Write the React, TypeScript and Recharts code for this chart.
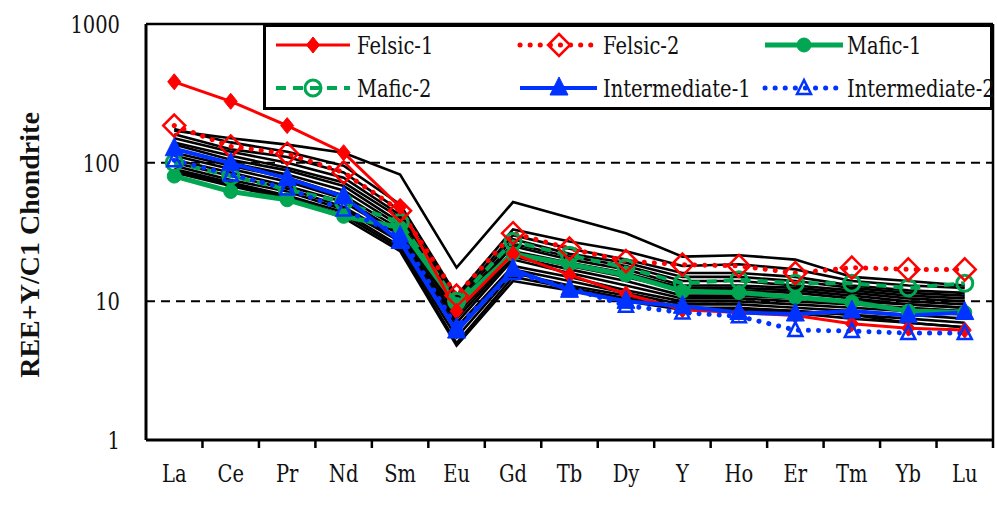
import React from 'react';
import { LineChart, Line, XAxis, YAxis, ReferenceLine, Legend } from 'recharts';

const categories = ['La', 'Ce', 'Pr', 'Nd', 'Sm', 'Eu', 'Gd', 'Tb', 'Dy', 'Y', 'Ho', 'Er', 'Tm', 'Yb', 'Lu'];
const yTicks = [1, 10, 100, 1000];

const felsic1 = [383, 277, 185, 118, 48, 8.5, 22, 15.5, 11.3, 8.7, 8.3, 7.9, 6.9, 6.4, 6.2];
const felsic2 = [185, 131, 116, 85, 45, 11, 31, 24, 19.5, 18.4, 18, 16, 17.5, 17, 17];
const mafic1 = [80, 62, 54, 41, 34, 9.5, 22, 18.5, 15.5, 11.8, 11.6, 10.7, 9.9, 8.5, 8.3];
const mafic2 = [100, 80, 64, 52, 37, 10, 27, 21.5, 17.5, 13.5, 14.3, 13.5, 13.5, 12.5, 13.5];
const inter1 = [126, 99, 77, 57, 27, 6.1, 17, 12, 10, 9.2, 8.3, 8.1, 8.5, 7.9, 8.3];
const inter2 = [104, 82, 65, 46, 30, 6.5, 16, 12.5, 9.3, 8.3, 7.8, 6.2, 6.1, 5.9, 5.9];

const sample01 = [170, 150, 135, 118, 82, 17.5, 52, 40, 31, 21, 21.5, 20, 15, 14, 13];
const sample02 = [175, 140, 120, 95, 50, 11, 33, 27, 23, 18, 18.5, 17, 14, 13, 12.5];
const sample03 = [160, 125, 110, 85, 45, 10.5, 30, 24, 20, 16, 16, 15, 13, 12, 11.5];
const sample04 = [150, 120, 100, 78, 42, 10, 28, 22, 19, 15, 15, 14, 12.5, 11.5, 11];
const sample05 = [140, 112, 92, 72, 40, 9.5, 26, 21, 18, 14, 14, 13, 12, 11, 10.5];
const sample06 = [135, 105, 88, 68, 37, 9, 25, 20, 17, 13, 13, 12.5, 11.5, 10.5, 10];
const sample07 = [125, 100, 82, 63, 35, 8.5, 23, 19, 16, 12.5, 12.5, 12, 11, 10, 9.5];
const sample08 = [118, 95, 78, 58, 33, 8, 22, 18, 15, 12, 12, 11.5, 10.5, 9.5, 9];
const sample09 = [112, 90, 73, 55, 31, 7.5, 21, 17, 14, 11, 11, 10.5, 10, 9.5, 9];
const sample10 = [105, 85, 68, 52, 30, 7, 20, 16, 13, 10.5, 10.5, 10, 9.5, 9, 8.5];
const sample11 = [100, 80, 65, 48, 28, 6.5, 18, 15, 12, 10, 10, 9.5, 9, 8.5, 8];
const sample12 = [95, 75, 62, 46, 27, 6, 17, 14, 11.5, 9.5, 9.5, 9, 8.5, 8, 7.5];
const sample13 = [90, 72, 58, 44, 25, 5.5, 16, 13, 11, 9, 9, 8.5, 8, 7.5, 7];
const sample14 = [88, 70, 56, 42, 24, 5, 15, 12.5, 10.5, 9, 8.8, 8.5, 8, 7, 6.5];
const sample15 = [85, 68, 55, 40, 23, 4.8, 14, 12, 10, 8.7, 8.5, 8.2, 7.5, 7, 6.5];

const samples = [sample01, sample02, sample03, sample04, sample05, sample06, sample07, sample08,
  sample09, sample10, sample11, sample12, sample13, sample14, sample15];

const data = categories.map((name, i) => {
  const row: any = { i, name, felsic1: felsic1[i], felsic2: felsic2[i], mafic1: mafic1[i], mafic2: mafic2[i], inter1: inter1[i], inter2: inter2[i] };
  samples.forEach((s, k) => { row['s' + k] = s[i]; });
  return row;
});

const RED = '#ff0000';
const GREEN = '#00a651';
const BLUE = '#0033ff';
const SERIF = '"DejaVu Serif", serif';
const SQUEEZE = 0.78;

const W = 997;
const H = 516;
const M = { top: 24, right: 4, bottom: 46, left: 0 };
const YAXIS_W = 146;
const PLOT_W = W - M.left - M.right - YAXIS_W;
const BAND_HALF = PLOT_W / categories.length / 2;

function SerifText({ x, y, anchor, size, children }: any) {
  return (
    <text transform={`translate(${x},${y}) scale(${SQUEEZE},1)`} x={0} y={0} textAnchor={anchor}
      dominantBaseline="central" style={{ fontFamily: SERIF }} fontSize={size} fill="#111">{children}</text>
  );
}

function Marker({ kind, cx, cy }: any) {
  if (cx == null || cy == null) return null;
  switch (kind) {
    case 'diamondFilled':
      return <polygon points={`${cx},${cy - 8} ${cx + 6.5},${cy} ${cx},${cy + 8} ${cx - 6.5},${cy}`} fill={RED} stroke={RED} strokeWidth={1} />;
    case 'diamondHollow':
      return <polygon points={`${cx},${cy - 11} ${cx + 11},${cy} ${cx},${cy + 11} ${cx - 11},${cy}`} fill="none" stroke={RED} strokeWidth={2.5} />;
    case 'circleFilled':
      return <circle cx={cx} cy={cy} r={7} fill={GREEN} stroke={GREEN} strokeWidth={1} />;
    case 'circleHollow':
      return <circle cx={cx} cy={cy} r={8} fill="none" stroke={GREEN} strokeWidth={3} />;
    case 'triFilled':
      return <polygon points={`${cx},${cy - 11} ${cx + 9},${cy + 7} ${cx - 9},${cy + 7}`} fill={BLUE} stroke={BLUE} strokeWidth={1} />;
    case 'triHollow':
      return <polygon points={`${cx},${cy - 8} ${cx + 7},${cy + 6} ${cx - 7},${cy + 6}`} fill="none" stroke={BLUE} strokeWidth={2.5} />;
    default:
      return null;
  }
}

const series = [
  { key: 'mafic1', name: 'Mafic-1', color: GREEN, width: 5, dash: undefined, cap: 'butt', marker: 'circleFilled' },
  { key: 'mafic2', name: 'Mafic-2', color: GREEN, width: 4, dash: '10 7', cap: 'butt', marker: 'circleHollow' },
  { key: 'felsic2', name: 'Felsic-2', color: RED, width: 5, dash: '0.1 10', cap: 'round', marker: 'diamondHollow' },
  { key: 'felsic1', name: 'Felsic-1', color: RED, width: 3, dash: undefined, cap: 'butt', marker: 'diamondFilled' },
  { key: 'inter2', name: 'Intermediate-2', color: BLUE, width: 5, dash: '0.1 10', cap: 'round', marker: 'triHollow' },
  { key: 'inter1', name: 'Intermediate-1', color: BLUE, width: 4, dash: undefined, cap: 'butt', marker: 'triFilled' },
];

const legendItems = [
  { key: 'felsic1', col: 0, row: 0 },
  { key: 'felsic2', col: 1, row: 0 },
  { key: 'mafic1', col: 2, row: 0 },
  { key: 'mafic2', col: 0, row: 1 },
  { key: 'inter1', col: 1, row: 1 },
  { key: 'inter2', col: 2, row: 1 },
];
const legendCols = [
  { x0: 13, x1: 87, mx: 50, tx: 94 },
  { x0: 257, x1: 334, mx: 296, tx: 340 },
  { x0: 502, x1: 580, mx: 541, tx: 584 },
];
const legendRows = [21, 64];

function LegendBox() {
  return (
    <svg width={730} height={86} style={{ display: 'block', overflow: 'visible' }}>
      <rect x={1.5} y={1.5} width={727} height={83} fill="#fff" stroke="#000" strokeWidth={3} />
      {legendItems.map((it) => {
        const s = series.find((q) => q.key === it.key)!;
        const c = legendCols[it.col];
        const y = legendRows[it.row];
        return (
          <g key={it.key}>
            <line x1={c.x0} x2={c.x1} y1={y} y2={y} stroke={s.color} strokeWidth={s.width}
              strokeDasharray={s.dash} strokeLinecap={s.cap as any} />
            <Marker kind={s.marker} cx={c.mx} cy={y} />
            <SerifText x={c.tx} y={y} anchor="start" size={25}>{s.name}</SerifText>
          </g>
        );
      })}
    </svg>
  );
}

function XTick(props: any) {
  const { x, y, payload } = props;
  return (
    <g>
      <line x1={x + BAND_HALF} x2={x + BAND_HALF} y1={y} y2={y + 8} stroke="#000" strokeWidth={2.5} />
      <SerifText x={x} y={y + 33} anchor="middle" size={25}>{categories[payload.value]}</SerifText>
    </g>
  );
}

function YTick(props: any) {
  const { x, y, payload } = props;
  return <SerifText x={x} y={y} anchor="end" size={25}>{payload.value}</SerifText>;
}

function YLabel() {
  return (
    <text transform="translate(29,245) rotate(-90)" textAnchor="middle" dominantBaseline="central"
      style={{ fontFamily: 'Liberation Serif' }} fontWeight="bold" fontSize={28} fill="#111">REE+Y/C1 Chondrite</text>
  );
}

export default function App() {
  return (
    <div style={{ position: 'absolute', left: 0, top: 0, width: W, height: H, background: '#fff' }}>
      <LineChart width={W} height={H} data={data} margin={M}>
        <XAxis dataKey="i" type="number" domain={[-0.5, 14.5]} ticks={categories.map((_, i) => i)}
          tickSize={0} tickMargin={0} tick={<XTick />} axisLine={{ stroke: '#000', strokeWidth: 3 }} interval={0} />
        <YAxis type="number" scale="log" domain={[1, 1000]} ticks={yTicks} allowDataOverflow width={YAXIS_W}
          tickSize={0} tickMargin={26} axisLine={{ stroke: '#000', strokeWidth: 3 }}
          tick={<YTick />} label={{ content: () => <YLabel /> }} />
        <ReferenceLine y={10} stroke="#000" strokeWidth={2} strokeDasharray="9 6" />
        <ReferenceLine y={100} stroke="#000" strokeWidth={2} strokeDasharray="9 6" />
        <ReferenceLine y={1000} stroke="#000" strokeWidth={2.5} />
        <ReferenceLine x={14.5} stroke="#000" strokeWidth={2.5} />
        {samples.map((_, k) => (
          <Line key={'s' + k} dataKey={'s' + k} type="linear" stroke="#000" strokeWidth={2.6} dot={false}
            isAnimationActive={false} legendType="none" />
        ))}
        {series.map((s) => (
          <Line key={s.key} dataKey={s.key} name={s.name} type="linear" stroke={s.color} strokeWidth={s.width}
            strokeDasharray={s.dash} strokeLinecap={s.cap as any} isAnimationActive={false}
            dot={(p: any) => <Marker key={s.key + p.index} kind={s.marker} cx={p.cx} cy={p.cy} />}
            activeDot={false} />
        ))}
        <Legend layout="vertical" align="center" verticalAlign="middle" content={() => <LegendBox />}
          wrapperStyle={{ position: 'absolute', left: 263, top: 24, width: 730, height: 86 }} />
      </LineChart>
    </div>
  );
}
